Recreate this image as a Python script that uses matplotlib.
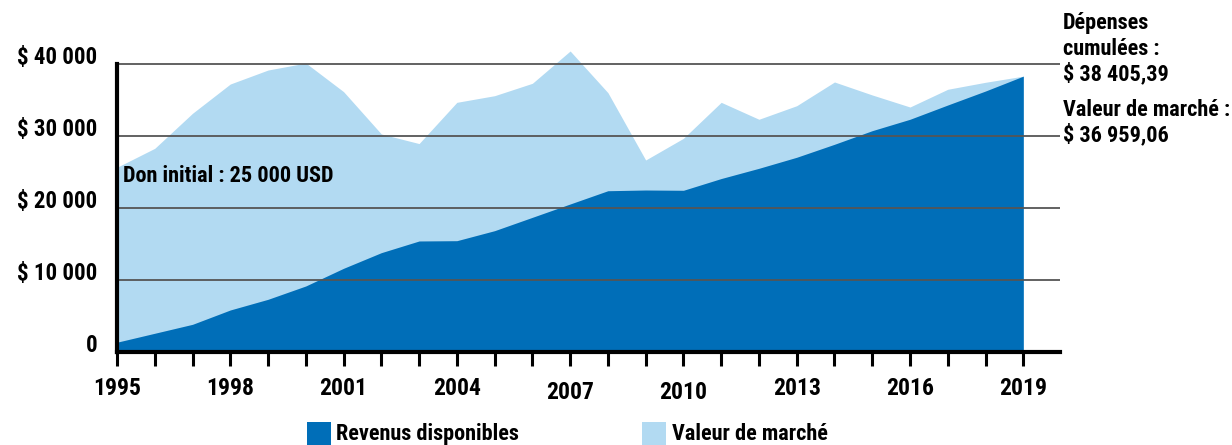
import matplotlib
matplotlib.use("Agg")
import matplotlib.pyplot as plt
from matplotlib import font_manager
from matplotlib.patches import Rectangle

years = list(range(1995, 2020))
revenus = [1400, 2640, 3880, 5870, 7350, 9200, 11650, 13820, 15440, 15480,
           16870, 18720, 20570, 22410, 22510, 22470, 24100, 25520, 27050, 28850,
           30740, 32320, 34300, 36240, 38300]
marche = [25660, 28290, 33150, 37210, 39150, 40120, 36150, 30280, 28950, 34670,
          35590, 37310, 41790, 36010, 26670, 29680, 34670, 32320, 34200, 37490,
          35690, 34020, 36480, 37450, 38300]
ytick_vals = [0, 10000, 20000, 30000, 40000]
ytick_labels = ["0", "$ 10 000", "$ 20 000", "$ 30 000", "$ 40 000"]
xtick_vals = [1995, 1998, 2001, 2004, 2007, 2010, 2013, 2016, 2019]
legend_labels = ["Revenus disponibles", "Valeur de marché"]
note_text = "Don initial : 25 000 USD"
right_lines_1 = ["Dépenses", "cumulées :", "$ 38 405,39"]
right_lines_2 = ["Valeur de marché :", "$ 36 959,06"]

avail = {f.name for f in font_manager.fontManager.ttflist}
fam = "DejaVu Sans"
for cand in ["Liberation Sans Narrow", "DejaVu Sans Condensed", "Roboto Condensed", "Open Sans Condensed"]:
    if cand in avail:
        fam = cand
        break
plt.rcParams['font.family'] = [fam, 'DejaVu Sans']
plt.rcParams['font.weight'] = 'bold'

DARK = "#006EB8"
LIGHT = "#B2DAF2"
GRID = "#555555"

fig = plt.figure(figsize=(12.32, 4.45), dpi=100)
ax = fig.add_axes([117/1232, 1 - 352.3/445, (1060-117)/1232, (352.3-35.06)/445])

ax.fill_between(years, 0, marche, color=LIGHT, lw=0, zorder=1)
ax.fill_between(years, 0, revenus, color=DARK, lw=0, zorder=2)

for v in ytick_vals[1:]:
    ax.axhline(v, color=GRID, lw=1.3, zorder=3)

ax.set_xlim(1995, 1995 + (1060-117.3)/37.75)
ax.set_ylim(0, 44000)

for s in ["top", "right"]:
    ax.spines[s].set_visible(False)
ax.spines["left"].set_linewidth(3)
ax.spines["bottom"].set_linewidth(3)
ax.spines["left"].set_bounds(0, 40000)
ax.spines["left"].set_zorder(5)
ax.spines["bottom"].set_zorder(5)

ax.set_yticks(ytick_vals)
ax.set_yticklabels(ytick_labels)
ax.tick_params(axis='y', length=0, pad=14, labelsize=16.5)
for lab in ax.get_yticklabels():
    lab.set_va('baseline')
    lab.set_fontweight('bold')

ax.set_xticks(xtick_vals)
ax.set_xticklabels([str(y) for y in xtick_vals])
ax.set_xticks(years, minor=True)
ax.tick_params(axis='x', which='both', direction='out', length=10, width=2.2, color='black')
ax.tick_params(axis='x', which='major', pad=8, labelsize=17)
for lab in ax.get_xticklabels():
    lab.set_fontweight('bold')
for t, v in zip(ax.xaxis.get_major_ticks(), xtick_vals):
    if v in (2007, 2010):
        t.set_pad(10.5)

ax.text(1995.15, 24400, note_text, fontsize=16, fontweight='bold', va='center', ha='left', zorder=6)

x_r = 1063/1232
for txt, yb in zip(right_lines_1, [29.5, 55, 80.5]):
    fig.text(x_r, 1 - yb/445, txt, fontsize=16, fontweight='bold', va='baseline', ha='left')
for txt, yb in zip(right_lines_2, [116.5, 141.5]):
    fig.text(x_r, 1 - yb/445, txt, fontsize=16, fontweight='bold', va='baseline', ha='left')

for i, (c, lx, tx) in enumerate([(DARK, 307, 336), (LIGHT, 642, 672)]):
    fig.patches.append(Rectangle((lx/1232, 0), 24/1232, 23/445, transform=fig.transFigure,
                                 facecolor=c, edgecolor='none'))
    fig.text(tx/1232, 1 - 440/445, legend_labels[i], fontsize=16, fontweight='bold', va='baseline', ha='left')

fig.savefig("out.png", dpi=100)
